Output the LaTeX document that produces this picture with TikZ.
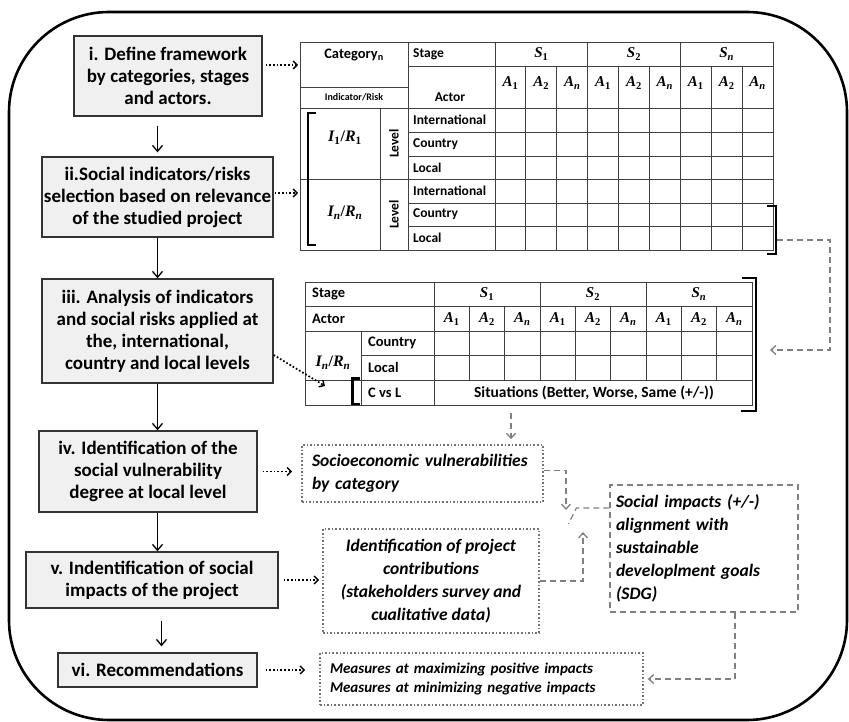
\documentclass[tikz,border=0pt]{standalone}
\usepackage{fontspec}
\setmainfont{Carlito}
\newfontfamily\mvfont{Liberation Serif}
\newcommand\mvx[2]{{\mvfont\bfseries\itshape #1}\textsubscript{\mvfont\bfseries #2}}
\usetikzlibrary{arrows.meta,calc}
\begin{document}
\begin{tikzpicture}[x=1pt,y=-1pt,
  tbl/.style={draw=black!75, line width=0.9pt},
  lbl/.style={font=\bfseries\fontsize{13.5}{15}\selectfont, inner sep=0pt},
  lbltwo/.style={font=\bfseries\fontsize{14.5}{16}\selectfont, inner sep=0pt},
  small/.style={font=\bfseries\fontsize{10}{12}\selectfont, inner sep=0pt},
  mth/.style={font=\fontsize{15}{17}\selectfont, inner sep=0pt},
  brk/.style={line width=2.2pt, black},
  stepbox/.style={draw=black!80, fill=black!6, line width=1.3pt, font=\bfseries\fontsize{19}{22}\selectfont, align=center, inner sep=0pt},
  dotbox/.style={draw=black!55, dotted, line width=1.6pt, font=\bfseries\itshape\fontsize{17.5}{23}\selectfont, inner sep=0pt},
  dashbox/.style={draw=black!50, dash pattern=on 6pt off 4pt, line width=1.3pt, font=\bfseries\itshape\fontsize{17.5}{23}\selectfont, inner sep=0pt},
  flow/.style={-{Straight Barb[length=6pt,width=10pt]}, line width=1.3pt},
  dotarr/.style={dotted, line width=1.7pt, -{Straight Barb[length=4pt,width=8pt,line width=1.4pt]}},
  grayarr/.style={draw=black!50, dash pattern=on 6pt off 4pt, line width=1.3pt, -{Straight Barb[length=5pt,width=9pt]}},
  graydash/.style={draw=black!50, dash pattern=on 6pt off 4pt, line width=1.3pt}]
\useasboundingbox (0,0) rectangle (849,722);
% outer frame
\draw[line width=2.6pt, rounded corners=100pt] (9,12) rectangle (847,720);

% left process boxes
\node[stepbox, minimum width=188pt, minimum height=80pt] (b1) at (168,76) {i. Define framework\\by categories, stages\\and actors.};
\node[stepbox, minimum width=231pt, minimum height=80pt] (b2) at (157.5,197) {ii.Social indicators/risks\\selection based on relevance\\of the studied project};
\node[stepbox, minimum width=231pt, minimum height=104pt] (b3) at (157.5,331) {iii. Analysis of indicators\\and social risks applied at\\the, international,\\country and local levels};
\node[stepbox, minimum width=218pt, minimum height=81pt] (b4) at (148,471.5) {iv. Identification of the\\social vulnerability\\degree at local level};
\node[stepbox, minimum width=252pt, minimum height=56pt] (b5) at (152,580) {v. Indentification of social\\impacts of the project};
\node[stepbox, minimum width=199pt, minimum height=34pt] (b6) at (157.5,670) {vi. Recommendations};

\draw[flow, shorten <=9pt, shorten >=4pt] (b1.south -| b2.north) -- (b2.north);
\draw[flow] (b2.south) -- (b3.north);
\draw[flow] (b3.south) -- (b3.south |- b4.north);
\draw[flow] (b4.south -| b3.south) -- (b5.north -| b3.south);
\draw[flow, shorten <=12pt, shorten >=6pt] ([xshift=4pt]b5.south -| b3.south) -- ([xshift=4pt]b6.north -| b3.south);

% ---------- table 1 ----------
\draw[tbl] (300,42) rectangle (773,250);
\draw[tbl] (408,42) -- (408,250);
\draw[tbl] (495,42) -- (495,250);
\draw[tbl] (380,108) -- (380,250);
\foreach \i in {1,2,4,5,7,8} \draw[tbl] ({495+30.89*\i},66) -- ({495+30.89*\i},250);
\foreach \i in {3,6} \draw[tbl] ({495+30.89*\i},42) -- ({495+30.89*\i},250);
\draw[tbl] (408,66) -- (773,66);
\draw[tbl] (300,87) -- (408,87);
\draw[tbl] (300,108) -- (773,108);
\draw[tbl] (300,179) -- (773,179);
\foreach \y in {132,156,203,226} \draw[tbl] (408,\y) -- (773,\y);

\node[font=\bfseries\fontsize{14.5}{16}\selectfont, inner sep=0pt] (t1cat) at (354,55) {Category\textsubscript{n}};
\node[small] (t1ir) at (354,97) {Indicator/Risk};
\node[lbl, anchor=west] (t1st) at (413,54) {Stage};
\node[lbl] (t1ac) at (450,97) {Actor};
\foreach \g/\s in {0/1,1/2,2/\itshape n} \node[mth] (t1s\g) at ({495+30.89*(3*\g+1.5)},54) {\mvx{S}{\s}};
\foreach \i/\s in {0/1,1/2,2/\itshape n,3/1,4/2,5/\itshape n,6/1,7/2,8/\itshape n} \node[mth] (t1a\i) at ({495+30.89*(\i+0.5)},83) {\mvx{A}{\s}};
\node[mth, font=\fontsize{16}{18}\selectfont] (t1i1) at (345,138) {\mvx{I}{1}{\mvfont\bfseries /}\mvx{R}{1}};
\node[mth, font=\fontsize{16}{18}\selectfont] (t1in) at (345,213) {\mvx{I}{\itshape n}{\mvfont\bfseries /}\mvx{R}{\itshape n}};
\node[lbl, rotate=90] (t1lv1) at (394,143.5) {Level};
\node[lbl, rotate=90] (t1lv2) at (394,214.5) {Level};
\node[lbl, anchor=west] (t1r1) at (413,120) {International};
\node[lbl, anchor=west] (t1r2) at (413,144) {Country};
\node[lbl, anchor=west] (t1r3) at (413,167.5) {Local};
\node[lbl, anchor=west] (t1r4) at (413,191) {International};
\node[lbl, anchor=west] (t1r5) at (413,214.5) {Country};
\node[lbl, anchor=west] (t1r6) at (413,238) {Local};
\draw[brk] (316,113) -- (308,113) -- (308,245) -- (316,245);
\draw[brk] (767,206) -- (776,206) -- (776,254) -- (767,254);
\coordinate (t1in1) at (298,65);
\coordinate (t1in2) at (298,193);
\coordinate (br1) at (777,240);

% ---------- table 2 ----------
\draw[tbl] (305,282) rectangle (752,405);
\draw[tbl] (434,282) -- (434,405);
\draw[tbl] (361,331) -- (361,405);
\foreach \i in {1,2,4,5,7,8} \draw[tbl] ({434+35.33*\i},306) -- ({434+35.33*\i},380);
\foreach \i in {3,6} \draw[tbl] ({434+35.33*\i},282) -- ({434+35.33*\i},380);
\draw[tbl] (305,306) -- (752,306);
\draw[tbl] (305,331) -- (752,331);
\draw[tbl] (361,355) -- (752,355);
\draw[tbl] (305,380) -- (752,380);
\node[lbltwo, anchor=west] (t2st) at (312,294) {Stage};
\node[lbltwo, anchor=west] (t2ac) at (312,318.5) {Actor};
\foreach \g/\s in {0/1,1/2,2/\itshape n} \node[mth] (t2s\g) at ({434+35.33*(3*\g+1.5)},294) {\mvx{S}{\s}};
\foreach \i/\s in {0/1,1/2,2/\itshape n,3/1,4/2,5/\itshape n,6/1,7/2,8/\itshape n} \node[mth] (t2a\i) at ({434+35.33*(\i+0.5)},319) {\mvx{A}{\s}};
\node[mth, font=\fontsize{16}{18}\selectfont] (t2in) at (333,363) {\mvx{I}{\itshape n}{\mvfont\bfseries /}\mvx{R}{\itshape n}};
\node[lbltwo, anchor=west] (t2r1) at (368,343) {Country};
\node[lbltwo, anchor=west] (t2r2) at (368,367.5) {Local};
\node[lbltwo, anchor=west] (t2r3) at (368,392.5) {C vs L};
\node[lbltwo, font=\bfseries\fontsize{15.5}{17}\selectfont] (t2sit) at (594,392.5) {Situations (Better, Worse, Same (+/-))};
\draw[brk] (360,378.5) -- (352.5,378.5) -- (352.5,404) -- (360,404);
\draw[brk] (742,278) -- (756,278) -- (756,411) -- (741,411);
\coordinate (t2in2) at (325,386);
\coordinate (t2r) at (770,350);
\coordinate (t2b) at (511,413);

% ---------- right-hand boxes ----------
\node[dotbox, minimum width=241pt, minimum height=57pt, text width=221pt, align=left] (socio) at (422.5,473.5) {Socioeconomic vulnerabilities\\by category};
\node[dotbox, minimum width=216pt, minimum height=104pt, align=center] (ident) at (431,581) {Identification of project\\contributions\\(stakeholders survey and\\cualitative data)};
\node[dashbox, minimum width=188pt, minimum height=127pt, text width=176pt, align=left] (social) at (704,548.5) {Social impacts (+/-)\\alignment with\\sustainable\\developlment goals\\(SDG)};
\node[dotbox, font=\bfseries\itshape\fontsize{15}{19}\selectfont, minimum width=323pt, minimum height=52pt, text width=303pt, align=left] (meas) at (481.5,679) {Measures at maximizing positive impacts\\Measures at minimizing negative impacts};
\coordinate (conv1) at (566,510);
\coordinate (conv2) at (583,532);

% dotted arrows from the steps
\draw[dotarr, shorten <=3pt] (b1.east |- t1in1) -- (t1in1);
\draw[dotarr, shorten <=1pt] (b2.east |- t1in2) -- (t1in2);
\draw[dotarr] ([yshift=-24pt]b3.east) -- (t2in2);
\draw[dotarr, shorten <=5pt, shorten >=9pt] (b4.east) -- (b4.east -| socio.west);
\draw[dotarr, shorten <=5pt, shorten >=3pt] (b5.east) -- (b5.east -| ident.west);
\draw[dotarr, shorten <=8pt, shorten >=14pt] (b6.east) -- (b6.east -| meas.west);

% gray dashed connectors
\draw[grayarr] (br1) -- ++(53,0) |- (t2r);
\draw[grayarr, shorten >=5pt] (t2b) -- (t2b |- socio.north);
\draw[grayarr] ([yshift=3pt]socio.east) -| (conv1);
\draw[grayarr] (ident.east) -| (conv2);
\draw[graydash] ([yshift=40.5pt]social.west) -- ++(-33,0) -- ++(-8,16);
\draw[grayarr, shorten >=4pt] ([xshift=31pt]social.south) |- (meas.east);
\end{tikzpicture}
\end{document}
